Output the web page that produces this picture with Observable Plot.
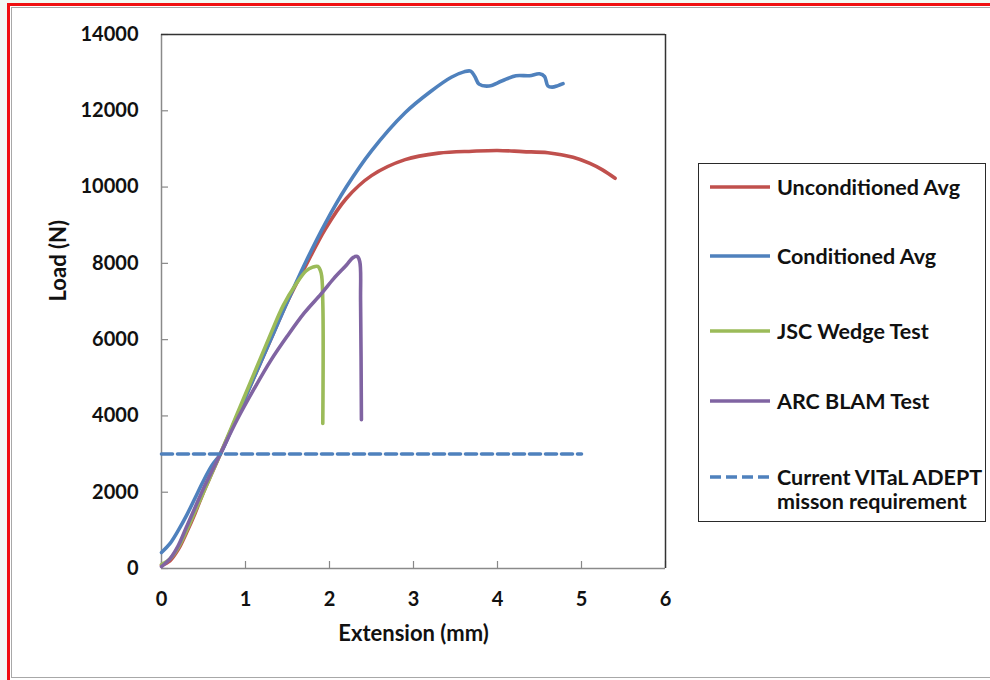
<!DOCTYPE html>
<html>
<head>
<meta charset="utf-8">
<script src="https://cdn.jsdelivr.net/npm/d3@7"></script>
<script src="https://cdn.jsdelivr.net/npm/@observablehq/plot@0.6"></script>
<style>
  body { margin: 0; background: #f3faf3; font-family: Lato, "Open Sans", sans-serif; }
  #page { position: absolute; left: 0; top: 0; width: 990px; height: 680px; overflow: hidden; }
  #card { position: absolute; left: 7px; top: 3px; width: 990px; height: 680px; border-left: 3px solid #f01010; border-top: 3px solid #f01010; background: #fff; box-sizing: border-box; }
  #inner { position: absolute; left: 11px; top: 7px; width: 990px; height: 671px; border-left: 1.5px solid #a8a8a8; border-top: 1.5px solid #a8a8a8; border-bottom: 1.5px solid #a8a8a8; box-sizing: border-box; }
  #chart { position: absolute; left: 0; top: 0; }
  #legend { position: absolute; left: 698px; top: 163px; width: 288px; height: 359px; border: 1.5px solid #2a2a2a; box-sizing: border-box; background: #fff; }
  .row { position: absolute; left: 10px; display: flex; align-items: flex-start; font-weight: 700; font-size: 21.5px; color: #111; line-height: 24px; white-space: nowrap; }
  .row svg { margin-right: 6px; flex: none; }
</style>
</head>
<body>
<div id="page">
  <div id="card"></div>
  <div id="inner"></div>
  <div id="chart"></div>
  <div id="legend"></div>
</div>
<script>
// ---- Data ----
const seriesNames = ["Unconditioned Avg", "Conditioned Avg", "JSC Wedge Test", "ARC BLAM Test"];
const requirementName = ["Current VITaL ADEPT", "misson requirement"];

const uncondX = [0, 0.1, 0.2, 0.3, 0.4, 0.5, 0.6, 0.7, 0.9, 1.1, 1.3, 1.5, 1.72, 1.95, 2.2, 2.5, 2.9, 3.3, 3.7, 4.0, 4.3, 4.6, 4.9, 5.1, 5.25, 5.4];
const uncondY = [80, 200, 500, 950, 1450, 2000, 2500, 3000, 4000, 5000, 6000, 7000, 7950, 8900, 9700, 10300, 10720, 10890, 10940, 10960, 10930, 10900, 10780, 10620, 10450, 10230];

const condX = [0, 0.1, 0.2, 0.3, 0.4, 0.5, 0.6, 0.7, 0.9, 1.1, 1.3, 1.5, 1.72, 1.95, 2.2, 2.5, 2.9, 3.2, 3.45, 3.6, 3.68, 3.73, 3.78, 3.9, 4.05, 4.22, 4.38, 4.5, 4.56, 4.6, 4.65, 4.72, 4.78];
const condY = [420, 650, 1000, 1400, 1850, 2300, 2700, 3000, 4000, 5000, 6000, 7000, 8050, 9050, 10000, 10950, 11950, 12500, 12880, 13020, 13040, 12900, 12700, 12650, 12780, 12920, 12920, 12970, 12900, 12650, 12620, 12660, 12710];

const jscX = [0, 0.1, 0.2, 0.3, 0.4, 0.5, 0.6, 0.7, 0.9, 1.1, 1.3, 1.45, 1.6, 1.72, 1.8, 1.86, 1.9, 1.92, 1.92];
const jscY = [100, 250, 550, 1000, 1500, 2000, 2500, 3000, 4050, 5100, 6150, 6900, 7450, 7800, 7900, 7920, 7750, 7000, 3800];

const arcX = [0, 0.1, 0.2, 0.3, 0.4, 0.5, 0.6, 0.7, 0.9, 1.1, 1.3, 1.5, 1.7, 1.9, 2.05, 2.2, 2.28, 2.33, 2.36, 2.37, 2.38];
const arcY = [50, 250, 600, 1100, 1600, 2100, 2550, 3000, 3900, 4700, 5450, 6100, 6700, 7200, 7600, 7950, 8150, 8180, 8050, 7000, 3900];

const requirementX = [0, 5];
const requirementY = [3000, 3000];

const xTicks = [0, 1, 2, 3, 4, 5, 6];
const yTicks = [0, 2000, 4000, 6000, 8000, 10000, 12000, 14000];

const colors = ["#C0504D", "#4F81BD", "#9BBB59", "#8064A2"];
const dashColor = "#4F81BD";

// ---- Build tables ----
const toRows = (xs, ys, name) => xs.map((x, i) => ({x, y: ys[i], series: name}));
const series = [
  toRows(uncondX, uncondY, seriesNames[0]),
  toRows(condX, condY, seriesNames[1]),
  toRows(jscX, jscY, seriesNames[2]),
  toRows(arcX, arcY, seriesNames[3])
];
const reqRows = toRows(requirementX, requirementY, "req");

const font = "Lato, 'Open Sans', sans-serif";

const chart = Plot.plot({
  width: 990,
  height: 680,
  marginLeft: 161,
  marginRight: 325,
  marginTop: 34,
  marginBottom: 112,
  style: {fontFamily: font, background: "transparent", overflow: "visible", color: "#111"},
  x: {domain: [0, 6]},
  y: {domain: [0, 14000]},
  marks: [
    // inward tick marks
    Plot.gridY(yTicks, {stroke: "#888", strokeOpacity: 1, strokeWidth: 1.2, insetRight: 497}),
    Plot.gridX(xTicks, {stroke: "#888", strokeOpacity: 1, strokeWidth: 1.2, insetTop: 527}),
    // axis lines
    Plot.ruleX([0], {stroke: "#8a8a8a", strokeWidth: 1.5}),
    Plot.ruleY([0], {stroke: "#8a8a8a", strokeWidth: 1.5}),
    Plot.ruleX([6], {stroke: "#333", strokeWidth: 1.5}),
    Plot.ruleY([14000], {stroke: "#333", strokeWidth: 1.5}),
    Plot.axisY(yTicks, {tickSize: 0, tickPadding: 23, fontSize: 20, fontWeight: "bold", label: null, tickFormat: d => String(d), fill: "#111"}),
    Plot.axisX(xTicks, {tickSize: 0, tickPadding: 23, fontSize: 20, fontWeight: "bold", label: null, tickFormat: d => String(d), fill: "#111"}),
    Plot.text(["Load (N)"], {frameAnchor: "left", dx: -103, rotate: -90, fontSize: 22, fontWeight: "bold", fill: "#111"}),
    Plot.text(["Extension (mm)"], {frameAnchor: "bottom", dy: 72, fontSize: 22, fontWeight: "bold", fill: "#111"}),
    ...series.map((rows, i) => Plot.line(rows, {x: "x", y: "y", stroke: colors[i], strokeWidth: 3.6, curve: "catmull-rom"})),
    Plot.line(reqRows, {x: "x", y: "y", stroke: dashColor, strokeWidth: 3.6, strokeDasharray: "11,5"})
  ]
});
document.getElementById("chart").appendChild(chart);

// ---- Legend ----
const legend = document.getElementById("legend");
const rowTops = [11, 80, 155, 225, 301];
const items = seriesNames.map((n, i) => ({label: n, color: colors[i], dash: null}));
items.push({label: requirementName.join("<br>"), color: dashColor, dash: "11,5"});
items.forEach((it, i) => {
  const row = document.createElement("div");
  row.className = "row";
  row.style.top = rowTops[i] + "px";
  row.innerHTML = `<svg width="62" height="24"><line x1="1" x2="61" y1="12" y2="12" stroke="${it.color}" stroke-width="3.6" ${it.dash ? `stroke-dasharray="${it.dash}"` : ""}/></svg><span>${it.label}</span>`;
  legend.appendChild(row);
});
</script>
</body>
</html>
